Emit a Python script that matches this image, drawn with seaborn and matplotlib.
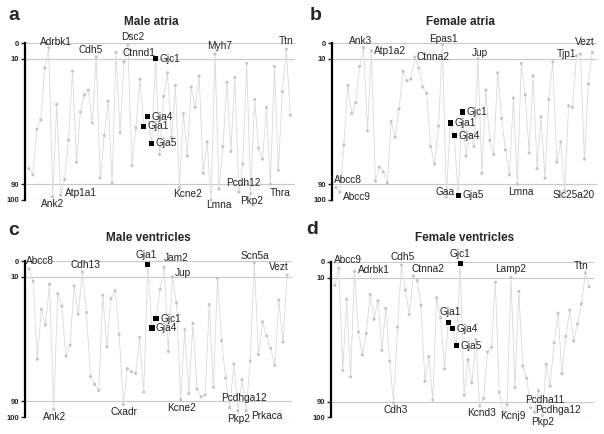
import numpy as np
import pandas as pd
import matplotlib
matplotlib.use("Agg")
import matplotlib.pyplot as plt
import seaborn as sns

# percentile rank (0 = highest expression) for each gene, alphabetical order
RANK_A = [80, 84, 55, 49, 16, 3, 98, 39, 97, 87, 62, 18, 76, 44, 33, 30, 51, 9, 86, 59,
          37, 89, 6, 57, 12, 1, 78, 54, 23, 53, 47, 64, 10, 71, 34, 19, 60, 27, 92, 45,
          72, 28, 41, 21, 83, 63, 100, 7, 93, 66, 25, 69, 22, 95, 77, 13, 96, 36, 67, 74,
          41, 90, 15, 81, 31, 4, 46]
GENES_A = {5: "Adrbk1", 6: "Ank2", 8: "Atp1a1", 17: "Cdh5", 24: "Ctnnd1", 25: "Dsc2",
           29: "Gja1", 30: "Gja4", 31: "Gja5", 32: "Gjc1", 38: "Kcne2", 46: "Lmna",
           47: "Myh7", 53: "Pcdh12", 56: "Pkp2", 61: "Thra", 65: "Ttn"}

RANK_B = [92, 95, 65, 27, 45, 38, 15, 3, 56, 5, 88, 79, 82, 89, 50, 60, 42, 18, 24, 23,
          9, 16, 28, 32, 66, 77, 53, 1, 98, 51, 59, 97, 44, 72, 58, 66, 10, 83, 30, 62,
          71, 19, 48, 68, 84, 35, 90, 13, 33, 70, 21, 80, 47, 86, 36, 12, 76, 63, 94, 40,
          41, 8, 7, 74, 26, 6]
GENES_B = {0: "Abcc8", 1: "Abcc9", 7: "Ank3", 9: "Atp1a2", 20: "Ctnna2", 27: "Epas1",
           28: "Gaa", 29: "Gja1", 30: "Gja4", 31: "Gja5", 32: "Gjc1", 36: "Jup",
           46: "Lmna", 58: "Slc25a20", 61: "Tjp1", 65: "Vezt"}

RANK_C = [5, 13, 63, 31, 41, 15, 95, 21, 29, 61, 54, 16, 34, 7, 33, 74, 79, 83, 22, 55,
          24, 19, 47, 92, 69, 71, 72, 49, 84, 2, 43, 37, 18, 4, 58, 10, 27, 89, 44, 85,
          40, 82, 87, 86, 28, 81, 11, 51, 75, 94, 66, 96, 76, 96, 64, 1, 60, 39, 48, 56,
          67, 25, 52, 9]
GENES_C = {0: "Abcc8", 6: "Ank2", 13: "Cdh13", 23: "Cxadr", 29: "Gja1", 30: "Gja4",
           31: "Gjc1", 33: "Jam2", 35: "Jup", 37: "Kcne2", 49: "Pcdhga12", 51: "Pkp2",
           53: "Prkaca", 55: "Scn5a", 63: "Vezt"}

RANK_D = [15, 4, 70, 24, 74, 6, 45, 60, 46, 21, 37, 25, 57, 30, 64, 91, 42, 2, 18, 34,
          9, 12, 28, 77, 61, 89, 23, 36, 69, 39, 43, 54, 1, 86, 63, 78, 50, 93, 88, 58,
          55, 13, 84, 97, 92, 10, 81, 19, 67, 75, 94, 97, 83, 99, 66, 80, 52, 33, 72, 48,
          31, 51, 40, 27, 7, 16]
GENES_D = {1: "Abcc9", 5: "Adrbk1", 15: "Cdh3", 17: "Cdh5", 20: "Ctnna2", 29: "Gja1",
           30: "Gja4", 31: "Gja5", 32: "Gjc1", 37: "Kcnd3", 43: "Kcnj9", 45: "Lamp2",
           50: "Pcdha11", 51: "Pcdhga12", 53: "Pkp2", 64: "Ttn"}

TITLES = ["Male atria", "Female atria", "Male ventricles", "Female ventricles"]
LETTERS = ["a", "b", "c", "d"]
YTICKS = [0, 10, 90, 100]

# label offsets in pixels (dx, dy, ha)
OFF_A = {"Adrbk1": (7, 6, "center"), "Ank2": (0, -7, "center"), "Atp1a1": (4, 2, "left"),
         "Cdh5": (-6, 7, "center"), "Ctnnd1": (15, 9, "center"), "Dsc2": (5, 8, "center"),
         "Kcne2": (8, -7, "center"), "Lmna": (8, -5, "center"), "Myh7": (5, 8, "center"),
         "Pcdh12": (5, 9, "center"), "Pkp2": (1, -7, "center"), "Thra": (10, -9, "center"),
         "Ttn": (0, 8, "center")}
OFF_B = {"Abcc8": (-2, 7, "left"), "Abcc9": (3, -5, "left"), "Ank3": (-3, 7, "center"),
         "Atp1a2": (3, 0, "left"), "Ctnna2": (2, 0, "left"), "Epas1": (1, 6, "center"),
         "Gaa": (-1, 5, "center"), "Jup": (2, 6, "center"), "Lmna": (4, -8, "center"),
         "Slc25a20": (9, -4, "center"), "Tjp1": (-10, 2, "center"), "Vezt": (-7, 10, "center")}
OFF_C = {"Abcc8": (11, 8, "center"), "Ank2": (1, -8, "center"), "Cdh13": (3, 7, "center"),
         "Cxadr": (1, -7, "center"), "Gja1": (-2, 9, "center"), "Jam2": (12, 9, "center"),
         "Jup": (2, 4, "left"), "Kcne2": (1, -8, "center"), "Pcdhga12": (14, 10, "center"),
         "Pkp2": (1, -8, "center"), "Prkaca": (5, -5, "left"), "Scn5a": (1, 7, "center"),
         "Vezt": (-8, 8, "center")}
OFF_D = {"Abcc9": (9, 8, "center"), "Adrbk1": (4, 1, "left"), "Cdh3": (2, -7, "center"),
         "Cdh5": (1, 8, "center"), "Ctnna2": (15, 7, "center"), "Gja1": (2, 10, "center"),
         "Gjc1": (0, 10, "center"), "Kcnd3": (2, -7, "center"), "Kcnj9": (10, -4, "center"),
         "Lamp2": (0, 8, "center"), "Pcdha11": (14, 8, "center"), "Pcdhga12": (1, 2, "left"),
         "Pkp2": (0, -7, "center"), "Ttn": (-4, 7, "center")}

sns.set_style("white")
plt.rcParams["font.family"] = ["Liberation Sans", "DejaVu Sans"]

W, H = 604, 434
fig = plt.figure(figsize=(W / 100, H / 100), dpi=100)

# axes boxes in pixels: left, right, top, bottom
BOXES = [(25, 295, 43, 200), (332, 597, 43, 200), (25, 292, 261, 417), (331, 594, 262, 417)]
TITLE_XY = [(151, 22), (460, 22), (148, 238), (465, 238)]
LETTER_XY = [(8, 15), (310, 15), (8, 230), (306, 229)]

panels = [(RANK_A, GENES_A, OFF_A), (RANK_B, GENES_B, OFF_B),
          (RANK_C, GENES_C, OFF_C), (RANK_D, GENES_D, OFF_D)]

for k, (ranks, genes, offs) in enumerate(panels):
    l, r, t, b = BOXES[k]
    ax = fig.add_axes([l / W, 1 - b / H, (r - l) / W, (b - t) / H])
    n = len(ranks)
    df = pd.DataFrame({"pos": np.arange(n), "rank": ranks,
                       "gene": [genes.get(i, "") for i in range(n)]})
    df["gj"] = df["gene"].str.startswith("Gj")

    for yv in YTICKS:
        ax.axhline(yv, color="#c8c8c8", lw=0.8, zorder=0)

    sns.lineplot(data=df, x="pos", y="rank", ax=ax, color="#dadada", lw=0.6,
                 sort=False, estimator=None, zorder=1)
    sns.scatterplot(data=df[~df["gj"]], x="pos", y="rank", ax=ax, color="#c4c4c4",
                    s=5, edgecolor="none", zorder=2, clip_on=False)
    sns.scatterplot(data=df[df["gj"]], x="pos", y="rank", ax=ax, color="black",
                    marker="s", s=14, edgecolor="none", zorder=3, clip_on=False)

    for _, row in df[df["gene"] != ""].iterrows():
        dx, dy, ha = offs.get(row["gene"], (4, 0, "left"))
        ax.annotate(row["gene"], (row["pos"], row["rank"]), xytext=(dx, dy),
                    textcoords="offset pixels", ha=ha, va="center", fontsize=7.3,
                    color="#222222", annotation_clip=False)

    ax.set_xlim(-1, n + 0.2)
    ax.set_ylim(100, 0)
    ax.set_yticks(YTICKS)
    ax.set_yticklabels([str(v) for v in YTICKS], fontsize=5.5, fontweight="bold")
    ax.set_xticks([])
    ax.set_xlabel("")
    ax.set_ylabel("")
    ax.tick_params(axis="y", direction="out", length=3, width=1, pad=1, left=True)
    for s in ["top", "right", "bottom"]:
        ax.spines[s].set_visible(False)
    ax.spines["left"].set_linewidth(1.6)
    ax.spines["left"].set_color("black")
    ax.patch.set_alpha(0)

    tx, ty = TITLE_XY[k]
    fig.text(tx / W, 1 - ty / H, TITLES[k], ha="center", va="center",
             fontsize=8.5, fontweight="bold")
    lx, ly = LETTER_XY[k]
    fig.text(lx / W, 1 - ly / H, LETTERS[k], ha="left", va="center",
             fontsize=14, fontweight="bold")

fig.savefig("out.png", dpi=100)
